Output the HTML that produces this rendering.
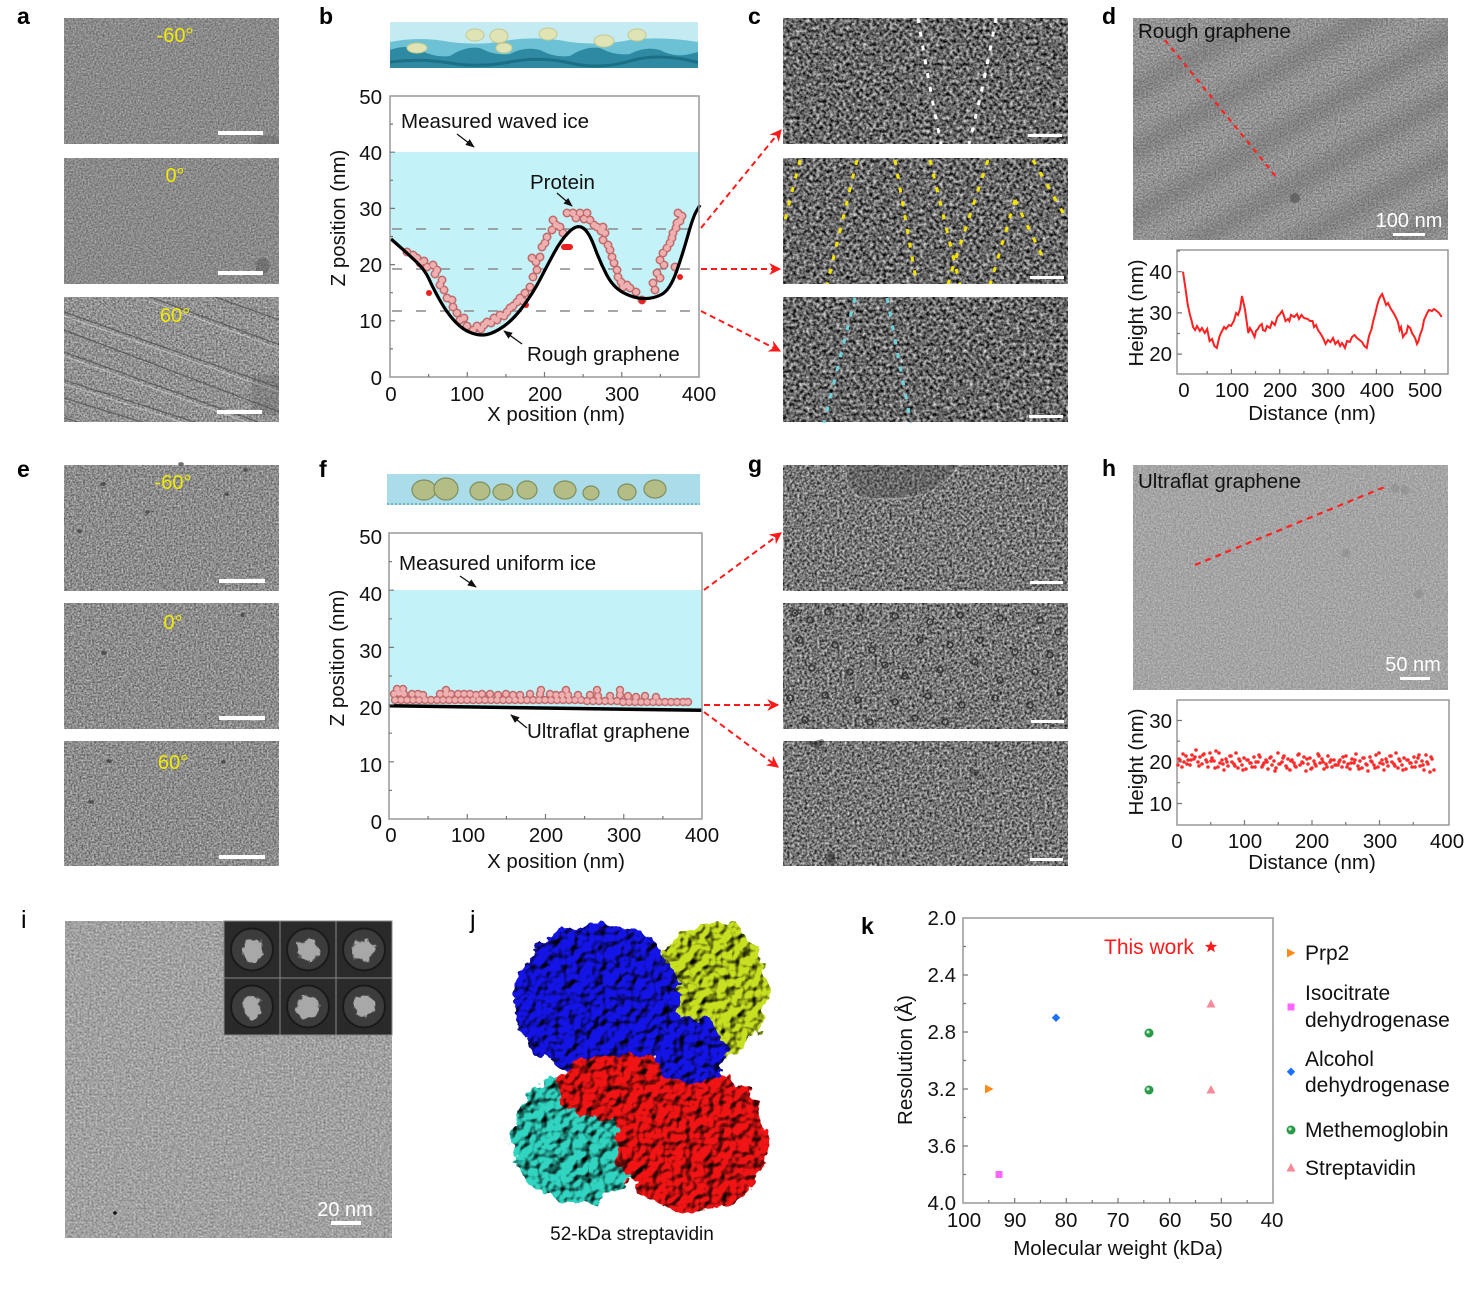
<!DOCTYPE html>
<html><head><meta charset="utf-8">
<style>
html,body{margin:0;padding:0;background:#fff;}
svg{display:block;}
text{font-family:"Liberation Sans",Arial,sans-serif;}
.pl{font-weight:bold;font-size:23px;fill:#000;}
.tk{font-size:20.5px;fill:#111;}
.an{font-size:20.5px;fill:#111;}
.yl{font-size:20px;fill:#f2ea00;}
.sb{font-size:20px;fill:#fff;}
</style></head><body>
<svg width="1473" height="1289" viewBox="0 0 1473 1289" xmlns="http://www.w3.org/2000/svg">
<defs>
 <filter id="fa" x="0" y="0" width="1" height="1" color-interpolation-filters="sRGB"><feTurbulence type="fractalNoise" baseFrequency="0.6" numOctaves="2" seed="1"/><feColorMatrix type="matrix" values="0.5 0 0 0 0.29 0.5 0 0 0 0.29 0.5 0 0 0 0.29 0 0 0 0 1"/></filter>
 <filter id="fe" x="0" y="0" width="1" height="1" color-interpolation-filters="sRGB"><feTurbulence type="fractalNoise" baseFrequency="0.55" numOctaves="2" seed="4"/><feColorMatrix type="matrix" values="0.7 0 0 0 0.2 0.7 0 0 0 0.2 0.7 0 0 0 0.2 0 0 0 0 1"/></filter>
 <filter id="fa6" x="0" y="0" width="1" height="1" color-interpolation-filters="sRGB"><feTurbulence type="fractalNoise" baseFrequency="0.55" numOctaves="2" seed="6"/><feColorMatrix type="matrix" values="0.7 0 0 0 0.22 0.7 0 0 0 0.22 0.7 0 0 0 0.22 0 0 0 0 1"/></filter>
 <filter id="fc" x="0" y="0" width="1" height="1" color-interpolation-filters="sRGB"><feTurbulence type="fractalNoise" baseFrequency="0.3" numOctaves="2" seed="7"/><feColorMatrix type="matrix" values="1.35 0 0 0 -0.27 1.35 0 0 0 -0.27 1.35 0 0 0 -0.27 0 0 0 0 1"/></filter>
 <filter id="fg" x="0" y="0" width="1" height="1" color-interpolation-filters="sRGB"><feTurbulence type="fractalNoise" baseFrequency="0.4" numOctaves="2" seed="9"/><feColorMatrix type="matrix" values="1.15 0 0 0 -0.11 1.15 0 0 0 -0.11 1.15 0 0 0 -0.11 0 0 0 0 1"/></filter>
 <filter id="fd" x="0" y="0" width="1" height="1" color-interpolation-filters="sRGB"><feTurbulence type="fractalNoise" baseFrequency="0.6" numOctaves="2" seed="11"/><feColorMatrix type="matrix" values="0.5 0 0 0 0.33 0.5 0 0 0 0.33 0.5 0 0 0 0.33 0 0 0 0 1"/></filter>
 <filter id="fh" x="0" y="0" width="1" height="1" color-interpolation-filters="sRGB"><feTurbulence type="fractalNoise" baseFrequency="0.6" numOctaves="2" seed="13"/><feColorMatrix type="matrix" values="0.35 0 0 0 0.47 0.35 0 0 0 0.47 0.35 0 0 0 0.47 0 0 0 0 1"/></filter>
 <filter id="fi" x="0" y="0" width="1" height="1" color-interpolation-filters="sRGB"><feTurbulence type="fractalNoise" baseFrequency="0.5" numOctaves="2" seed="15"/><feColorMatrix type="matrix" values="0.5 0 0 0 0.38 0.5 0 0 0 0.38 0.5 0 0 0 0.38 0 0 0 0 1"/></filter>
 <filter id="blur6"><feGaussianBlur stdDeviation="8"/></filter>
 <filter id="fblob" x="-20%" y="-20%" width="140%" height="140%" color-interpolation-filters="sRGB">
  <feTurbulence type="fractalNoise" baseFrequency="0.07" numOctaves="3" seed="5" result="t"/>
  <feDisplacementMap in="SourceGraphic" in2="t" scale="18" xChannelSelector="R" yChannelSelector="G" result="d"/>
  <feTurbulence type="fractalNoise" baseFrequency="0.09" numOctaves="2" seed="21" result="t2"/>
  <feDiffuseLighting in="t2" surfaceScale="6" diffuseConstant="1.25" lighting-color="#ffffff" result="l"><feDistantLight azimuth="225" elevation="50"/></feDiffuseLighting>
  <feComposite in="l" in2="d" operator="arithmetic" k1="1" k2="0" k3="0" k4="0"/>
 </filter>
 <filter id="fblob2" x="-20%" y="-20%" width="140%" height="140%"><feTurbulence type="fractalNoise" baseFrequency="0.12" numOctaves="2" seed="8" result="t"/><feDisplacementMap in="SourceGraphic" in2="t" scale="10" xChannelSelector="R" yChannelSelector="G"/></filter>
 <clipPath id="cA60"><rect x="64" y="297" width="215" height="125"/></clipPath>
 <clipPath id="cC1"><rect x="783" y="18" width="285" height="126"/></clipPath>
 <clipPath id="cC2"><rect x="783" y="158" width="285" height="126"/></clipPath>
 <clipPath id="cC3"><rect x="783" y="297" width="285" height="126"/></clipPath>
 <clipPath id="cD"><rect x="1133" y="18" width="315" height="222"/></clipPath>
 <clipPath id="cG1"><rect x="783" y="465" width="285" height="126"/></clipPath>
 <clipPath id="cB"><rect x="390" y="22" width="308" height="46"/></clipPath>
 <marker id="ah" viewBox="0 0 10 10" refX="9" refY="5" markerWidth="6" markerHeight="6" orient="auto"><path d="M0,0 L10,5 L0,10 L3,5 Z" fill="#ff1a1a"/></marker>
 <marker id="bh" viewBox="0 0 10 10" refX="9" refY="5" markerWidth="7" markerHeight="7" orient="auto"><path d="M0,1 L10,5 L0,9 Z" fill="#111"/></marker>
</defs>
<rect width="1473" height="1289" fill="#fff"/>

<!-- ===== Panel letters ===== -->
<text class="pl" x="17" y="24">a</text>
<text class="pl" x="319" y="24">b</text>
<text class="pl" x="748" y="24">c</text>
<text class="pl" x="1102" y="24">d</text>
<text class="pl" x="17" y="477">e</text>
<text class="pl" x="319" y="477">f</text>
<text class="pl" x="748" y="472">g</text>
<text class="pl" x="1102" y="476">h</text>
<text x="21" y="928" style="font-size:25px;fill:#000">i</text>
<text x="470" y="928" style="font-size:25px;fill:#000">j</text>
<text class="pl" x="861" y="934">k</text>

<!-- ===== Panel a ===== -->
<rect x="64" y="18" width="215" height="126" filter="url(#fa)"/>
<rect x="64" y="158" width="215" height="126" filter="url(#fa)"/>
<rect x="64" y="297" width="215" height="125" filter="url(#fa6)"/>
<path d="M253 140 q8 -6 18 -4 l8 0 v8 h-26z" fill="#555" opacity="0.3"/>
<path d="M256 262 q6 -8 12 -2 q4 10 -4 14 h-8z" fill="#444" opacity="0.35"/>
<g clip-path="url(#cA60)" fill="none">
 <g stroke="#3a3a3a" stroke-width="1.3" opacity="0.55">
  <path d="M64 312 L280 388"/><path d="M64 330 L280 412"/><path d="M64 352 L280 430"/>
  <path d="M64 380 L250 440"/><path d="M64 398 L200 440"/><path d="M150 297 L280 345"/>
  <path d="M215 297 L280 320"/><path d="M64 418 L140 440"/>
 </g>
 <g stroke="#e8e8e8" stroke-width="1.2" opacity="0.45">
  <path d="M64 316 L280 392"/><path d="M64 356 L280 434"/><path d="M150 301 L280 349"/><path d="M64 384 L250 444"/>
 </g>
 <rect x="252" y="375" width="30" height="40" fill="#555" opacity="0.25"/>
</g>
<g fill="#fff"><rect x="218" y="131" width="45" height="4"/><rect x="218" y="271" width="45" height="4"/><rect x="217" y="410" width="45" height="4"/></g>
<text class="yl" x="175" y="42" text-anchor="middle">-60°</text>
<text class="yl" x="175" y="182" text-anchor="middle">0°</text>
<text class="yl" x="175" y="322" text-anchor="middle">60°</text>

<!-- ===== Panel e ===== -->
<rect x="64" y="465" width="215" height="126" filter="url(#fe)"/>
<rect x="64" y="603" width="215" height="126" filter="url(#fe)"/>
<rect x="64" y="741" width="215" height="125" filter="url(#fe)"/>
<path d="M102 484h2M79 531h1M147 512h1M226 494h1M103 653h2M242 615h1M108 761h2M90 802h2M223 762h1M245 470h1M180 464h2" stroke="#333" stroke-width="3.5" stroke-linecap="round" opacity="0.7"/>
<g fill="#fff"><rect x="219" y="579" width="46" height="4"/><rect x="219" y="716" width="46" height="4"/><rect x="219" y="855" width="46" height="4"/></g>
<text class="yl" x="173" y="489" text-anchor="middle">-60°</text>
<text class="yl" x="173" y="629" text-anchor="middle">0°</text>
<text class="yl" x="173" y="769" text-anchor="middle">60°</text>

<!-- ===== Panel b ===== -->
<rect x="390" y="22" width="308" height="46" fill="#c4eaf2"/>
<g clip-path="url(#cB)">
<path d="M390 42 Q420 36 450 42 Q480 46 510 40 Q540 36 570 42 Q600 46 630 40 Q660 36 698 42 L698 70 L390 70 Z" fill="#6cc2d4"/>
<path d="M390 50 Q405 44 420 50 Q435 58 450 56 Q465 46 480 48 Q495 56 510 54 Q525 46 540 50 Q555 58 570 56 Q585 46 600 48 Q615 56 630 54 Q645 46 660 50 Q675 58 690 54 L698 52 L698 70 L390 70 Z" fill="#2e8aa2"/>
<path d="M390 62 Q420 58 450 63 T510 62 T570 63 T630 61 T700 63" stroke="#1d6f86" stroke-width="3" fill="none"/>
</g>
<g fill="#e0e4b4" stroke="#c4c890" stroke-width="1">
 <ellipse cx="417" cy="48" rx="10" ry="5"/><ellipse cx="475" cy="35" rx="9" ry="6"/><ellipse cx="499" cy="36" rx="9" ry="7"/>
 <ellipse cx="504" cy="48" rx="8" ry="5"/><ellipse cx="548" cy="34" rx="9" ry="6"/><ellipse cx="604" cy="41" rx="10" ry="6"/><ellipse cx="637" cy="35" rx="9" ry="6"/>
</g>

<rect x="390" y="152" width="309" height="225" fill="#c3f3f8"/>
<path d="M391,239 L399,246 Q407,253 416,261.5 Q425,270 429,279 Q433,288 440,300.5 Q447,313 455,321.5 Q463,330 471.5,333 Q480,336 487,334.5 Q494,333 503.5,326.5 Q513,320 523,306.5 Q533,293 540,279.5 Q547,266 554,253 Q561,240 569,232 Q577,224 583,228 Q589,232 594.5,247 Q600,262 606.5,274.5 Q613,287 623,292.5 Q633,298 643,298.5 Q653,299 661.5,294.5 Q670,290 676.5,271.5 Q683,253 688,235 Q693,217 696.5,211 L700,205 L700,378 L390,378 L390,239 Z" fill="#fff"/>
<g stroke="#8a8a8a" stroke-width="1.5" stroke-dasharray="10 14"><path d="M392 229H699"/><path d="M392 269H699"/><path d="M392 311H699"/></g>
<path d="M407 252h0M413 255h0M417 258h0M420 263h0M424 261h0M427 267h0M433 265h0M437 270h0M435 274h0M442 280h0M440 285h0M444 290h0M447 298h0M452 300h0M453 307h0M457 313h0M460 320h0M464 318h0M467 326h0M473 330h0M477 326h0M481 329h0M484 325h0M487 322h0M491 323h0M494 318h0M497 320h0M500 315h0M504 316h0M507 312h0M510 308h0M513 306h0M517 302h0M520 298h0M523 301h0M525 293h0M530 287h0M533 277h0M537 270h0M532 258h0M536 262h0M540 257h0M542 247h0M547 237h0M545 243h0M552 230h0M553 220h0M556 225h0M560 227h0M563 233h0M567 213h0M573 213h0M576 218h0M580 213h0M584 219h0M587 213h0M590 220h0M594 225h0M597 227h0M601 231h0M603 227h0M605 233h0M603 240h0M608 245h0M610 250h0M612 257h0M614 263h0M617 270h0M618 277h0M621 282h0M623 287h0M627 285h0M630 288h0M636 292h0M642 300h0M653 283h0M655 290h0M657 273h0M660 260h0M663 253h0M664 265h0M667 248h0M670 243h0M672 238h0M673 233h0M676 228h0M677 223h0M678 213h0M682 216h0M680 221h0M675 267h0M660 278h0" stroke="#c06a6a" stroke-width="9" stroke-linecap="round"/>
<path d="M407 252h0M413 255h0M417 258h0M420 263h0M424 261h0M427 267h0M433 265h0M437 270h0M435 274h0M442 280h0M440 285h0M444 290h0M447 298h0M452 300h0M453 307h0M457 313h0M460 320h0M464 318h0M467 326h0M473 330h0M477 326h0M481 329h0M484 325h0M487 322h0M491 323h0M494 318h0M497 320h0M500 315h0M504 316h0M507 312h0M510 308h0M513 306h0M517 302h0M520 298h0M523 301h0M525 293h0M530 287h0M533 277h0M537 270h0M532 258h0M536 262h0M540 257h0M542 247h0M547 237h0M545 243h0M552 230h0M553 220h0M556 225h0M560 227h0M563 233h0M567 213h0M573 213h0M576 218h0M580 213h0M584 219h0M587 213h0M590 220h0M594 225h0M597 227h0M601 231h0M603 227h0M605 233h0M603 240h0M608 245h0M610 250h0M612 257h0M614 263h0M617 270h0M618 277h0M621 282h0M623 287h0M627 285h0M630 288h0M636 292h0M642 300h0M653 283h0M655 290h0M657 273h0M660 260h0M663 253h0M664 265h0M667 248h0M670 243h0M672 238h0M673 233h0M676 228h0M677 223h0M678 213h0M682 216h0M680 221h0M675 267h0M660 278h0" stroke="#eeb0b0" stroke-width="6" stroke-linecap="round"/>
<path d="M429 293h0M564 247h6M526 305h0M680 277h0M642 301h0" stroke="#e82020" stroke-width="6" stroke-linecap="round"/>
<path d="M391,239 L399,246 Q407,253 416,261.5 Q425,270 429,279 Q433,288 440,300.5 Q447,313 455,321.5 Q463,330 471.5,333 Q480,336 487,334.5 Q494,333 503.5,326.5 Q513,320 523,306.5 Q533,293 540,279.5 Q547,266 554,253 Q561,240 569,232 Q577,224 583,228 Q589,232 594.5,247 Q600,262 606.5,274.5 Q613,287 623,292.5 Q633,298 643,298.5 Q653,299 661.5,294.5 Q670,290 676.5,271.5 Q683,253 688,235 Q693,217 696.5,211 L700,205" fill="none" stroke="#000" stroke-width="3.2"/>
<rect x="390" y="96" width="309" height="281" fill="none" stroke="#999" stroke-width="1.5"/>
<path d="M467.25 377v-5M544.5 377v-5M621.75 377v-5M428.6 377v-3M505.9 377v-3M583.1 377v-3M660.4 377v-3M390 320.8h5M390 264.6h5M390 208.4h5M390 152.2h5M390 348.9h3M390 292.7h3M390 236.5h3M390 180.3h3M390 124.1h3" stroke="#777" stroke-width="1.2"/>
<g class="tk" text-anchor="end"><text x="382" y="104">50</text><text x="382" y="160">40</text><text x="382" y="216">30</text><text x="382" y="272">20</text><text x="382" y="328">10</text><text x="382" y="385">0</text></g>
<g class="tk" text-anchor="middle"><text x="391" y="401">0</text><text x="467" y="401">100</text><text x="545" y="401">200</text><text x="622" y="401">300</text><text x="699" y="401">400</text></g>
<text class="tk" x="556" y="421" text-anchor="middle">X position (nm)</text>
<text class="tk" transform="translate(345,218) rotate(-90)" text-anchor="middle">Z position (nm)</text>
<text class="an" x="401" y="128">Measured waved ice</text>
<text class="an" x="530" y="189">Protein</text>
<text class="an" x="527" y="361">Rough graphene</text>
<g stroke="#111" stroke-width="1.3" marker-end="url(#bh)"><path d="M457 134L474 147"/><path d="M557 193L572 206"/><path d="M522 344L504 331"/></g>

<!-- arrows -->
<g stroke="#ff1a1a" stroke-width="2" stroke-dasharray="6 4" fill="none" marker-end="url(#ah)">
 <path d="M701 228L781 130"/><path d="M701 269L780 269"/><path d="M701 311L780 351"/>
 <path d="M704 590L781 533"/><path d="M704 705L778 705"/><path d="M704 712L778 767"/>
</g>

<!-- ===== Panel c ===== -->
<rect x="783" y="18" width="285" height="126" filter="url(#fc)"/>
<rect x="783" y="158" width="285" height="126" filter="url(#fc)"/>
<rect x="783" y="297" width="285" height="125" filter="url(#fc)"/>
<g fill="none" stroke-width="3" stroke-dasharray="5 9">
 <g clip-path="url(#cC1)" stroke="#ffffff"><path d="M918 18 Q928 80 941 144"/><path d="M996 18 Q985 80 969 144"/></g>
 <g clip-path="url(#cC2)" stroke="#f4e400"><path d="M800 160L784 224"/><path d="M857 160L827 285"/><path d="M895 160L917 285"/><path d="M930 160L960 285"/><path d="M988 160L952 270L948 285"/><path d="M1015 200L990 285"/><path d="M1015 200L1045 262"/><path d="M1033 160L1066 218"/></g>
 <g clip-path="url(#cC3)" stroke="#6fd6e0"><path d="M855 298L824 423"/><path d="M887 298L911 423"/></g>
</g>
<g fill="#fff"><rect x="1028" y="134" width="34" height="3"/><rect x="1030" y="276" width="34" height="3"/><rect x="1029" y="415" width="34" height="3"/></g>

<!-- ===== Panel g ===== -->
<rect x="783" y="465" width="285" height="126" filter="url(#fg)"/>
<rect x="783" y="603" width="285" height="126" filter="url(#fg)"/>
<rect x="783" y="741" width="285" height="125" filter="url(#fg)"/>
<g clip-path="url(#cG1)"><path d="M846 464 Q844 490 860 497 Q900 503 930 492 Q950 480 960 464Z" fill="#444" opacity="0.3" stroke="#eee" stroke-width="1.3"/></g>
<g fill="none" stroke="#2a2a2a" stroke-width="1.6" opacity="0.85">
 <circle cx="795" cy="613" r="3"/><circle cx="810" cy="620" r="3"/><circle cx="828" cy="612" r="3"/><circle cx="860" cy="618" r="3"/><circle cx="895" cy="616" r="3"/><circle cx="930" cy="622" r="3"/><circle cx="960" cy="615" r="3"/><circle cx="1000" cy="618" r="3"/><circle cx="1040" cy="620" r="3"/><circle cx="1058" cy="632" r="3"/>
 <circle cx="800" cy="640" r="3"/><circle cx="835" cy="645" r="3"/><circle cx="872" cy="650" r="3"/><circle cx="920" cy="640" r="3"/><circle cx="950" cy="645" r="3"/><circle cx="980" cy="640" r="3"/><circle cx="1015" cy="652" r="3"/><circle cx="1050" cy="655" r="3"/>
 <circle cx="812" cy="668" r="3"/><circle cx="850" cy="672" r="3"/><circle cx="885" cy="665" r="3"/><circle cx="905" cy="676" r="3"/><circle cx="940" cy="670" r="3"/><circle cx="975" cy="662" r="3"/><circle cx="1000" cy="680" r="3"/><circle cx="1035" cy="672" r="3"/>
 <circle cx="790" cy="698" r="3"/><circle cx="825" cy="695" r="3"/><circle cx="858" cy="700" r="3"/><circle cx="895" cy="702" r="3"/><circle cx="928" cy="696" r="3"/><circle cx="962" cy="705" r="3"/><circle cx="995" cy="698" r="3"/><circle cx="1030" cy="705" r="3"/><circle cx="1060" cy="692" r="3"/>
 <circle cx="805" cy="720" r="3"/><circle cx="870" cy="722" r="3"/><circle cx="915" cy="718" r="3"/><circle cx="945" cy="722" r="3"/>
</g>
<path d="M808 743 q5 8 14 2 q4 -4 0 -6z M828 852 q-4 10 4 14 q6 -4 2 -14z M970 770 q6 -3 9 4 q-4 6 -9 -4z" fill="#222" opacity="0.5"/>
<g fill="#fff"><rect x="1030" y="581" width="33" height="3"/><rect x="1031" y="720" width="33" height="3"/><rect x="1030" y="858" width="33" height="3"/></g>

<!-- ===== Panel f ===== -->
<rect x="387" y="474" width="313" height="31" fill="#abdcea"/>
<path d="M387 504H700" stroke="#5aaabb" stroke-width="1.5" stroke-dasharray="2 2"/>
<g fill="#b4bd86" stroke="#7f8f5e" stroke-width="1.2">
 <ellipse cx="424" cy="490" rx="12" ry="10"/><ellipse cx="446" cy="489" rx="12" ry="11"/><ellipse cx="480" cy="491" rx="10" ry="9"/><ellipse cx="503" cy="492" rx="10" ry="8"/><ellipse cx="527" cy="490" rx="10" ry="9"/>
 <ellipse cx="565" cy="490" rx="11" ry="9"/><ellipse cx="591" cy="493" rx="8" ry="7"/><ellipse cx="627" cy="492" rx="9" ry="8"/><ellipse cx="655" cy="489" rx="11" ry="9"/>
</g>
<path d="M389 590H702V710.3L389 705.7Z" fill="#c3f3f8"/>
<path d="M395 700h0M401 700h0M407 700h0M413 700h0M419 700h0M425 700h0M431 700h0M437 700h0M443 700h0M449 700h0M455 700h0M461 700h0M467 700h0M473 700h0M479 700h0M485 700h0M491 700h0M497 700h0M503 700h0M509 700h0M515 700h0M521 700h0M527 700h0M533 700h0M539 700h0M545 700h0M551 700h0M557 700h0M563 700h0M569 700h0M575 700h0M581 700h0M587 701h0M593 701h0M599 701h0M605 701h0M611 701h0M617 701h0M623 702h0M629 702h0M635 702h0M641 702h0M647 702h0M653 702h0M659 702h0M665 702h0M671 702h0M677 702h0M683 702h0M688 702h0M394 694h0M399 693h0M404 694h0M412 694h0M418 694h0M423 695h0M440 694h0M446 694h0M451 694h0M458 694h0M464 694h0M470 694h0M476 695h0M482 694h0M490 694h0M498 695h0M506 694h0M513 695h0M520 695h0M530 694h0M540 694h0M550 694h0M556 695h0M562 695h0M568 695h0M578 695h0M590 695h0M598 696h0M610 696h0M620 695h0M628 696h0M636 697h0M645 696h0M656 697h0M397 689h0M403 689h0M446 690h0M541 690h0M566 690h0M597 690h0M620 690h0" stroke="#c06a6a" stroke-width="8.5" stroke-linecap="round"/>
<path d="M395 700h0M401 700h0M407 700h0M413 700h0M419 700h0M425 700h0M431 700h0M437 700h0M443 700h0M449 700h0M455 700h0M461 700h0M467 700h0M473 700h0M479 700h0M485 700h0M491 700h0M497 700h0M503 700h0M509 700h0M515 700h0M521 700h0M527 700h0M533 700h0M539 700h0M545 700h0M551 700h0M557 700h0M563 700h0M569 700h0M575 700h0M581 700h0M587 701h0M593 701h0M599 701h0M605 701h0M611 701h0M617 701h0M623 702h0M629 702h0M635 702h0M641 702h0M647 702h0M653 702h0M659 702h0M665 702h0M671 702h0M677 702h0M683 702h0M688 702h0M394 694h0M399 693h0M404 694h0M412 694h0M418 694h0M423 695h0M440 694h0M446 694h0M451 694h0M458 694h0M464 694h0M470 694h0M476 695h0M482 694h0M490 694h0M498 695h0M506 694h0M513 695h0M520 695h0M530 694h0M540 694h0M550 694h0M556 695h0M562 695h0M568 695h0M578 695h0M590 695h0M598 696h0M610 696h0M620 695h0M628 696h0M636 697h0M645 696h0M656 697h0M397 689h0M403 689h0M446 690h0M541 690h0M566 690h0M597 690h0M620 690h0" stroke="#eeb0b0" stroke-width="5.5" stroke-linecap="round"/>
<path d="M389 705.7L702 710.3" stroke="#000" stroke-width="3.5"/>
<rect x="389" y="533" width="313" height="286" fill="none" stroke="#999" stroke-width="1.5"/>
<path d="M467.25 819v-5M545.5 819v-5M623.75 819v-5M428.1 819v-3M506.4 819v-3M584.6 819v-3M662.9 819v-3M389 761.8h5M389 704.6h5M389 647.4h5M389 590.2h5M389 790.4h3M389 733.2h3M389 676h3M389 618.8h3M389 561.6h3" stroke="#777" stroke-width="1.2"/>
<g class="tk" text-anchor="end"><text x="382" y="544">50</text><text x="382" y="601">40</text><text x="382" y="658">30</text><text x="382" y="715">20</text><text x="382" y="772">10</text><text x="382" y="829">0</text></g>
<g class="tk" text-anchor="middle"><text x="391" y="842">0</text><text x="468" y="842">100</text><text x="546" y="842">200</text><text x="624" y="842">300</text><text x="702" y="842">400</text></g>
<text class="tk" x="556" y="868" text-anchor="middle">X position (nm)</text>
<text class="tk" transform="translate(344,658) rotate(-90)" text-anchor="middle">Z position (nm)</text>
<text class="an" x="399" y="570">Measured uniform ice</text>
<text class="an" x="527" y="738">Ultraflat graphene</text>
<g stroke="#111" stroke-width="1.3" marker-end="url(#bh)"><path d="M460 576L476 587"/><path d="M527 728L511 715"/></g>

<!-- ===== Panel d ===== -->
<rect x="1133" y="18" width="315" height="222" filter="url(#fd)"/>
<g clip-path="url(#cD)" filter="url(#blur6)" stroke="#4a4a4a" stroke-width="18" opacity="0.28">
 <path d="M1120 100L1460 -95"/><path d="M1120 160L1460 -35"/><path d="M1120 225L1460 30"/><path d="M1120 285L1460 90"/><path d="M1120 345L1460 150"/><path d="M1120 400L1460 205"/><path d="M1120 455L1460 260"/>
</g>
<circle cx="1295" cy="198" r="5" fill="#555" opacity="0.7"/>
<path d="M1165 40L1277 178" stroke="#ff2020" stroke-width="2.2" stroke-dasharray="5 5"/>
<text x="1138" y="38" style="font-size:20.5px;fill:#111">Rough graphene</text>
<text class="sb" x="1409" y="227" text-anchor="middle">100 nm</text>
<rect x="1393" y="233" width="32" height="3" fill="#fff"/>
<rect x="1177" y="250" width="271" height="124" fill="none" stroke="#999" stroke-width="1.5"/>
<path d="M1231.4 374v-5M1279.7 374v-5M1328 374v-5M1376.4 374v-5M1424.8 374v-5M1207.2 374v-3M1255.5 374v-3M1303.9 374v-3M1352.2 374v-3M1400.6 374v-3M1177 271.7h5M1177 312.9h5M1177 354.1h5M1177 251h3M1177 292.3h3M1177 333.5h3" stroke="#777" stroke-width="1.2"/>
<path d="M1183,271.7 L1185.4,288 L1187.8,305 L1190,315 L1191.7,321 L1193,327 L1195.1,330 L1197,326 L1199.9,331 L1202,328 L1204.8,333 L1207.2,329 L1209.6,341 L1212,339 L1214.4,346 L1216.8,348 L1218,343 L1219.3,337 L1221,333 L1224.1,327 L1226,329 L1228.9,325 L1231,326 L1233.8,321 L1236.2,313 L1238,315 L1240.1,309 L1242,296 L1244.9,309 L1248.3,333 L1250,328 L1251.7,331 L1254.6,337 L1256,331 L1257.9,329 L1259.5,326 L1261.8,324 L1263,330 L1265.2,331 L1267,326 L1270,328 L1272,322 L1274.9,325 L1277.3,317 L1280,314 L1282.1,311 L1284,316 L1285.5,321 L1288,319 L1289.4,321 L1291,315 L1294.2,317 L1297,314 L1299,319 L1301.5,315 L1304,318 L1307.7,319 L1310,321 L1312.6,321 L1314,327 L1316,325 L1318,330 L1320.8,334 L1323,338 L1325.6,344 L1328,340 L1330.5,342 L1333,338 L1335.3,344 L1338,341 L1340.1,346 L1342,343 L1345,348 L1347,341 L1349.8,342 L1352,337 L1354.6,335 L1357,338 L1359.5,340 L1362,342 L1364.3,346 L1366.7,348 L1369,336 L1371.6,329 L1373,322 L1375.4,313 L1377,306 L1378.8,300 L1380,297 L1382.2,294 L1384,299 L1386.1,305 L1388,303 L1390.9,309 L1393,312 L1395.7,317 L1398,322 L1399.6,330 L1401,327 L1403,337 L1405,334 L1406.4,333 L1408,326 L1410.2,328 L1412,333 L1415.1,338 L1417,344 L1418.5,341 L1420,335 L1422.3,329 L1424,320 L1427.2,313 L1429,310 L1432,311 L1434,309 L1436.8,311 L1439,313 L1441.7,317" fill="none" stroke="#ff2020" stroke-width="2"/>
<g class="tk" text-anchor="end"><text x="1172" y="279">40</text><text x="1172" y="320">30</text><text x="1172" y="361">20</text></g>
<g class="tk" text-anchor="middle"><text x="1184" y="397">0</text><text x="1232" y="397">100</text><text x="1280" y="397">200</text><text x="1328" y="397">300</text><text x="1377" y="397">400</text><text x="1425" y="397">500</text></g>
<text class="tk" x="1312" y="420" text-anchor="middle">Distance (nm)</text>
<text class="tk" transform="translate(1143,313) rotate(-90)" text-anchor="middle">Height (nm)</text>

<!-- ===== Panel h ===== -->
<rect x="1133" y="465" width="315" height="225" filter="url(#fh)"/>
<path d="M1346 553h0M1419 594h0M1395 488h0M1405 490h0" stroke="#888" stroke-width="9" stroke-linecap="round" opacity="0.5"/>
<path d="M1195 565L1387 486" stroke="#ff2020" stroke-width="2.2" stroke-dasharray="6 5"/>
<text x="1138" y="488" style="font-size:20.5px;fill:#111">Ultraflat graphene</text>
<text class="sb" x="1413" y="671" text-anchor="middle">50 nm</text>
<rect x="1400" y="677" width="30" height="3" fill="#fff"/>
<rect x="1177" y="700" width="272" height="125" fill="none" stroke="#999" stroke-width="1.5"/>
<path d="M1244.5 825v-5M1312 825v-5M1379.5 825v-5M1210.75 825v-3M1278.25 825v-3M1345.75 825v-3M1413.25 825v-3M1177 720.5h5M1177 762h5M1177 803.5h5M1177 741.2h3M1177 782.7h3" stroke="#777" stroke-width="1.2"/>
<path d="M1178 765h0M1180 760h0M1182 767h0M1184 762h0M1186 756h0M1188 760h0M1190 765h0M1192 755h0M1194 759h0M1196 750h0M1198 762h0M1200 757h0M1202 764h0M1204 754h0M1206 760h0M1208 767h0M1210 753h0M1212 758h0M1214 761h0M1216 751h0M1218 767h0M1220 763h0M1222 760h0M1224 770h0M1226 759h0M1228 766h0M1230 756h0M1232 762h0M1234 764h0M1236 753h0M1238 768h0M1240 761h0M1242 765h0M1244 758h0M1246 769h0M1248 760h0M1250 763h0M1252 767h0M1254 757h0M1256 762h0M1258 762h0M1260 757h0M1262 767h0M1264 763h0M1266 760h0M1268 769h0M1270 758h0M1272 765h0M1274 761h0M1276 768h0M1278 753h0M1280 764h0M1282 762h0M1284 756h0M1286 766h0M1288 759h0M1290 770h0M1292 760h0M1294 763h0M1296 767h0M1298 755h0M1300 765h0M1302 762h0M1304 757h0M1306 771h0M1308 764h0M1310 758h0M1312 768h0M1314 761h0M1316 766h0M1318 754h0M1320 763h0M1322 759h0M1324 769h0M1326 764h0M1328 756h0M1330 762h0M1332 767h0M1334 760h0M1336 765h0M1338 765h0M1340 760h0M1342 767h0M1344 762h0M1346 756h0M1348 764h0M1350 769h0M1352 759h0M1354 763h0M1356 754h0M1358 766h0M1360 761h0M1362 768h0M1364 758h0M1366 764h0M1368 771h0M1370 757h0M1372 762h0M1374 765h0M1376 755h0M1378 767h0M1380 763h0M1382 760h0M1384 770h0M1386 759h0M1388 766h0M1390 756h0M1392 762h0M1394 764h0M1396 753h0M1398 768h0M1400 761h0M1402 765h0M1404 758h0M1406 769h0M1408 760h0M1410 763h0M1412 767h0M1414 757h0M1416 762h0M1418 758h0M1420 766h0M1422 761h0M1424 770h0M1426 755h0M1428 764h0M1430 772h0M1432 759h0M1434 770h0M1179 759h0M1183 754h0M1187 764h0M1191 760h0M1195 757h0M1199 766h0M1203 755h0M1207 762h0M1211 761h0M1215 768h0M1219 753h0M1223 764h0M1227 762h0M1231 756h0M1235 766h0M1239 759h0M1243 770h0M1247 760h0M1251 763h0M1255 767h0M1259 755h0M1263 765h0M1267 762h0M1271 757h0M1275 771h0M1279 764h0M1283 758h0M1287 768h0M1291 761h0M1295 766h0M1299 754h0M1303 763h0M1307 759h0M1311 769h0M1315 764h0M1319 756h0M1323 762h0M1327 767h0M1331 760h0M1335 765h0M1339 762h0M1343 757h0M1347 767h0M1351 763h0M1355 760h0M1359 769h0M1363 758h0M1367 765h0M1371 761h0M1375 768h0M1379 753h0M1383 764h0M1387 762h0M1391 756h0M1395 766h0M1399 759h0M1403 770h0M1407 760h0M1411 763h0M1415 767h0M1419 755h0M1423 765h0M1427 762h0M1431 757h0" stroke="#ff2a2a" stroke-width="3.6" stroke-linecap="round"/>
<g class="tk" text-anchor="end"><text x="1172" y="728">30</text><text x="1172" y="769">20</text><text x="1172" y="811">10</text></g>
<g class="tk" text-anchor="middle"><text x="1177" y="848">0</text><text x="1245" y="848">100</text><text x="1312" y="848">200</text><text x="1380" y="848">300</text><text x="1447" y="848">400</text></g>
<text class="tk" x="1312" y="869" text-anchor="middle">Distance (nm)</text>
<text class="tk" transform="translate(1143,762) rotate(-90)" text-anchor="middle">Height (nm)</text>

<!-- ===== Panel i ===== -->
<rect x="65" y="921" width="327" height="317" filter="url(#fi)"/>
<circle cx="115" cy="1213" r="1.8" fill="#111"/>
<g stroke="#888" stroke-width="1" fill="#2a2a2a">
 <rect x="224" y="921" width="56" height="57"/><rect x="280" y="921" width="56" height="57"/><rect x="336" y="921" width="56" height="57"/>
 <rect x="224" y="978" width="56" height="57"/><rect x="280" y="978" width="56" height="57"/><rect x="336" y="978" width="56" height="57"/>
</g>
<g fill="#3c3c3c" stroke="#1a1a1a" stroke-width="2"><circle cx="252" cy="949.5" r="21"/><circle cx="308" cy="949.5" r="21"/><circle cx="364" cy="949.5" r="21"/><circle cx="252" cy="1006.5" r="21"/><circle cx="308" cy="1006.5" r="21"/><circle cx="364" cy="1006.5" r="21"/></g>
<g fill="#a8a8a8" stroke="#606060" stroke-width="1.5" stroke-dasharray="2 3" filter="url(#fblob2)">
 <ellipse cx="252" cy="950" rx="10" ry="12"/><circle cx="308" cy="950" r="11"/><ellipse cx="364" cy="950" rx="12" ry="10"/>
 <ellipse cx="252" cy="1007" rx="9" ry="12"/><ellipse cx="308" cy="1007" rx="11" ry="12"/><circle cx="364" cy="1006" r="11"/>
</g>
<text class="sb" x="345" y="1216" text-anchor="middle">20 nm</text>
<rect x="331" y="1221" width="30" height="4" fill="#fff"/>

<!-- ===== Panel j ===== -->
<g filter="url(#fblob)">
 <ellipse cx="712" cy="990" rx="56" ry="68" fill="#c8e020"/>
 <ellipse cx="598" cy="1000" rx="84" ry="76" fill="#1414e6"/>
 <ellipse cx="578" cy="1140" rx="66" ry="64" fill="#30d4c0"/>
 <ellipse cx="692" cy="1140" rx="76" ry="72" fill="#f01414"/>
 <ellipse cx="620" cy="1088" rx="62" ry="34" fill="#f01414"/>
 <ellipse cx="690" cy="1050" rx="36" ry="32" fill="#1414e6"/>
</g>
<text x="632" y="1240" text-anchor="middle" style="font-size:19px;fill:#111">52-kDa streptavidin</text>

<!-- ===== Panel k ===== -->
<rect x="963" y="918" width="310" height="285" fill="none" stroke="#999" stroke-width="1.5"/>
<path d="M1014.7 1203v-5M1066.3 1203v-5M1118 1203v-5M1169.7 1203v-5M1221.3 1203v-5M988.8 1203v-3M1040.5 1203v-3M1092.2 1203v-3M1143.8 1203v-3M1195.5 1203v-3M1247.2 1203v-3M963 975h5M963 1032h5M963 1089h5M963 1146h5M963 946.5h3M963 1003.5h3M963 1060.5h3M963 1117.5h3M963 1174.5h3" stroke="#777" stroke-width="1.2"/>
<g class="tk" text-anchor="end"><text x="956" y="925">2.0</text><text x="956" y="982">2.4</text><text x="956" y="1039">2.8</text><text x="956" y="1096">3.2</text><text x="956" y="1153">3.6</text><text x="956" y="1210">4.0</text></g>
<g class="tk" text-anchor="middle"><text x="964" y="1227">100</text><text x="1015" y="1227">90</text><text x="1066" y="1227">80</text><text x="1118" y="1227">70</text><text x="1170" y="1227">60</text><text x="1221" y="1227">50</text><text x="1272" y="1227">40</text></g>
<text class="tk" x="1118" y="1255" text-anchor="middle">Molecular weight (kDa)</text>
<text class="tk" transform="translate(912,1060) rotate(-90)" text-anchor="middle">Resolution (Å)</text>
<text x="1104" y="954" style="font-size:21px;fill:#ff1a1a">This work</text>
<path d="M1211 940.5l1.6 4.3 4.6 0.2-3.6 2.8 1.3 4.4-3.9-2.6-3.9 2.6 1.3-4.4-3.6-2.8 4.6-0.2z" fill="#ff1a1a"/>
<path d="M985 1084.5L993.5 1089L985 1093.5Z" fill="#ff8a1a"/>
<rect x="995.5" y="1171" width="7" height="7" fill="#ff66ff"/>
<path d="M1056 1013.5L1060.2 1017.75L1056 1022L1051.8 1017.75Z" fill="#1a70ff"/>
<circle cx="1149" cy="1033" r="4.5" fill="#2a9a4a"/><circle cx="1148" cy="1032" r="1.6" fill="#bfe8c8"/>
<circle cx="1149" cy="1090" r="4.5" fill="#2a9a4a"/><circle cx="1148" cy="1089" r="1.6" fill="#bfe8c8"/>
<path d="M1211 999L1215.5 1007.5L1206.5 1007.5Z" fill="#f58a98"/>
<path d="M1211 1085L1215.5 1093.5L1206.5 1093.5Z" fill="#f58a98"/>
<path d="M1287 948.5L1295.5 953L1287 957.5Z" fill="#ff8a1a"/>
<rect x="1287.5" y="1003.5" width="7" height="7" fill="#ff66ff"/>
<path d="M1291 1067.5L1295.2 1071.75L1291 1076L1286.8 1071.75Z" fill="#1a70ff"/>
<circle cx="1291" cy="1130" r="4.5" fill="#2a9a4a"/><circle cx="1290" cy="1129" r="1.6" fill="#bfe8c8"/>
<path d="M1291 1163L1295.5 1171.5L1286.5 1171.5Z" fill="#f58a98"/>
<g style="font-size:21px;fill:#111">
 <text x="1305" y="960">Prp2</text>
 <text x="1305" y="1000">Isocitrate</text><text x="1305" y="1027">dehydrogenase</text>
 <text x="1305" y="1066">Alcohol</text><text x="1305" y="1092">dehydrogenase</text>
 <text x="1305" y="1137">Methemoglobin</text>
 <text x="1305" y="1175">Streptavidin</text>
</g>
</svg>
</body></html>
